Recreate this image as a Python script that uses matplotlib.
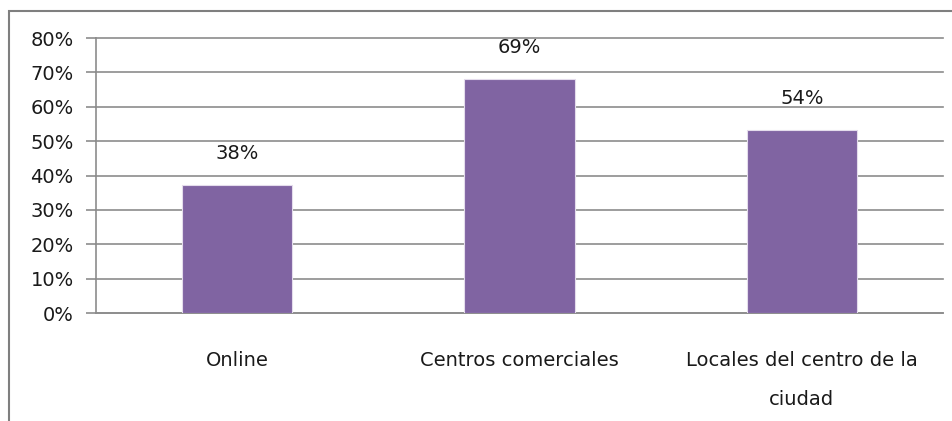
import matplotlib
matplotlib.use("Agg")
import matplotlib.pyplot as plt
from matplotlib.patches import Rectangle

categories = ["Online", "Centros comerciales", "Locales del centro de la\nciudad"]
values = [0.372, 0.68, 0.532]
value_labels = ["38%", "69%", "54%"]
yticks = [0, 0.1, 0.2, 0.3, 0.4, 0.5, 0.6, 0.7, 0.8]
ytick_labels = ["0%", "10%", "20%", "30%", "40%", "50%", "60%", "70%", "80%"]

plt.rcParams["font.family"] = ["DejaVu Sans"]

fig = plt.figure(figsize=(9.53, 4.21), dpi=100)
ax = fig.add_axes([0.1007, 0.2565, 0.8888, 0.6532])

grey = "#8c8c8c"
x = range(len(categories))
ax.bar(x, values, width=0.39, color="#8064A2", edgecolor="#e4dcec", linewidth=0.8, zorder=3)

for xi, v, lab in zip(x, values, value_labels):
    ax.annotate(lab, (xi, v), xytext=(0, 16), textcoords="offset points",
                ha="center", va="bottom", fontsize=14, color="#1a1a1a")

ax.set_ylim(0, 0.8)
ax.set_xlim(-0.5, 2.5)
ax.set_yticks(yticks)
ax.set_yticklabels(ytick_labels, fontsize=14, color="#1a1a1a")
ax.set_xticks(list(x))
ax.set_xticklabels(categories, fontsize=14, color="#1a1a1a", linespacing=2.35)
ax.tick_params(axis="x", length=0, pad=27)
ax.tick_params(axis="y", length=7, width=1.2, color=grey, pad=9)
ax.yaxis.grid(True, color=grey, linewidth=1.2, zorder=0)
ax.set_axisbelow(True)
for gl in ax.get_ygridlines():
    gl.set_clip_on(False)

for side in ["top", "right"]:
    ax.spines[side].set_visible(False)
ax.spines["left"].set_color(grey)
ax.spines["left"].set_linewidth(1.2)
ax.spines["bottom"].set_color(grey)
ax.spines["bottom"].set_linewidth(1.2)

# outer chart frame
fig.patches.append(Rectangle((9 / 953, -0.1), 1.2, 1.1 - 11 / 421, transform=fig.transFigure,
                             fill=False, edgecolor="#7f7f7f", linewidth=1.5))

fig.savefig("out.png", dpi=100)
